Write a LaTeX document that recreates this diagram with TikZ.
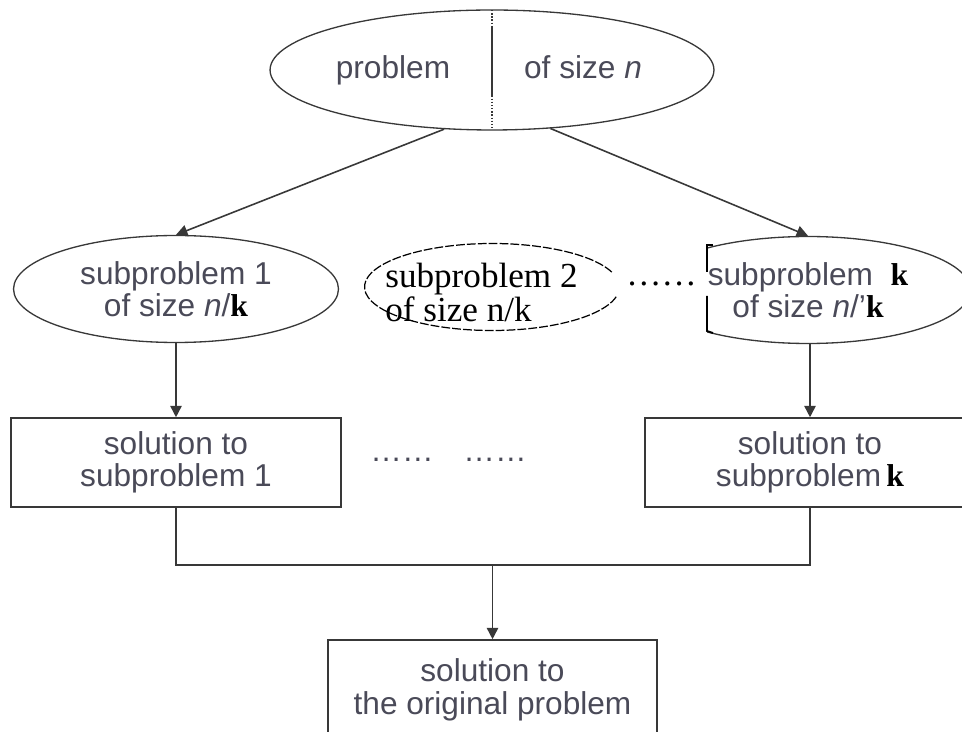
\documentclass[tikz,border=0pt]{standalone}
\usepackage{fontspec}
\setmainfont{Liberation Sans}
\newfontfamily\timesfont{Liberation Serif}
\usepackage{tikz}
\usetikzlibrary{arrows.meta,positioning,calc,shapes.geometric}

\definecolor{inkgray}{HTML}{383838}
\definecolor{txtgray}{HTML}{4A4A58}
\newcommand{\kk}{{\color{black}\timesfont\bfseries k}}

\tikzset{
    bigell/.style={ellipse, draw=inkgray, line width=0.75pt, inner sep=0pt,
        minimum width=8.88cm, minimum height=2.4cm},
    subell/.style={ellipse, draw=inkgray, line width=0.75pt, inner sep=0pt,
        minimum width=6.5cm, minimum height=2.14cm, align=center,
        font=\fontsize{18}{18}\selectfont, text=txtgray},
    solbox/.style={rectangle, draw=inkgray, line width=0.9pt, inner sep=0pt,
        minimum width=6.6cm, minimum height=1.78cm, align=center,
        font=\fontsize{18}{18.5}\selectfont, text=txtgray},
    sanstext/.style={inner sep=0pt, font=\fontsize{18}{19}\selectfont, text=txtgray},
    seriftext/.style={inner sep=0pt, align=left, font=\timesfont\fontsize{20}{16.5}\selectfont},
    flow/.style={draw=inkgray, line width=0.9pt, -{Triangle[length=6.5pt,width=6.5pt]}},
    link/.style={draw=inkgray, line width=0.9pt}
}

\begin{document}
\begin{tikzpicture}[x=0.02cm, y=0.02cm]
        \clip (0,0) rectangle (962,-732);

        % Top problem
        \node[bigell] (prob) at (492,-70) {};
        \node[sanstext, anchor=base] (probL) at (393,-79) {problem};
        \node[sanstext, anchor=base] (probR) at (583,-79) {of size \textit{n}};
        \draw[inkgray, line width=0.8pt, densely dotted] (492,-10) -- (492,-130);
        \draw[inkgray, line width=0.9pt] (492,-27) -- (492,-97);

        % Subproblems
        \node[subell] (sub1) at (176,-289) {subproblem 1\\of size \textit{n}/\kk};

        \coordinate (sub2c) at (492,-287);
        \draw[black, line width=0.7pt, dash pattern=on 5pt off 1.2pt]
            ($(sub2c)+(20:2.55cm and 0.87cm)$)
            arc[start angle=20, end angle=347, x radius=2.55cm, y radius=0.87cm];
        \node[seriftext, anchor=west] (sub2) at (385,-292) {subproblem 2\\of size n/k};

        \node[seriftext, anchor=west] (dotsA) at (626,-284) {……};

        \begin{scope}
            \clip (707,-200) rectangle (980,-360);
            \node[subell] (subk) at (808,-290) {subproblem\ \ \kk\\of size \textit{n}/'\kk};
        \end{scope}
        % bracket on the left of subproblem k
        \draw[black, line width=1pt] (713,-245) -- (707,-245) -- (707,-272);
        \draw[black, line width=1pt] (707,-296) -- (707,-331) -- (713,-333);

        % Solutions
        \node[solbox] (sol1) at (176,-462.5) {solution to\\subproblem 1};
        \node[solbox] (solk) at (810,-462.5) {solution to\\subproblem\,\kk};
        \node[sanstext] (dotsB) at (402,-460) {……};
        \node[sanstext] (dotsC) at (495,-460) {……};

        \node[solbox, minimum width=6.58cm, minimum height=2cm] (fin) at (492.5,-690)
            {solution to\\the original problem};

        % arcs between levels
        \draw[flow] (prob.231) -- (sub1.north);
        \draw[flow] (prob.315) -- (subk.north);
        \draw[flow] (sub1.south) -- (sol1.north);
        \draw[flow] (solk.north |- subk.south) -- (solk.north);

        \coordinate (join) at (492.5,-565);
        \draw[link] (sol1.south) |- (join) -| (solk.south);
        \draw[flow] (join) -- (fin.north);
\end{tikzpicture}
\end{document}
